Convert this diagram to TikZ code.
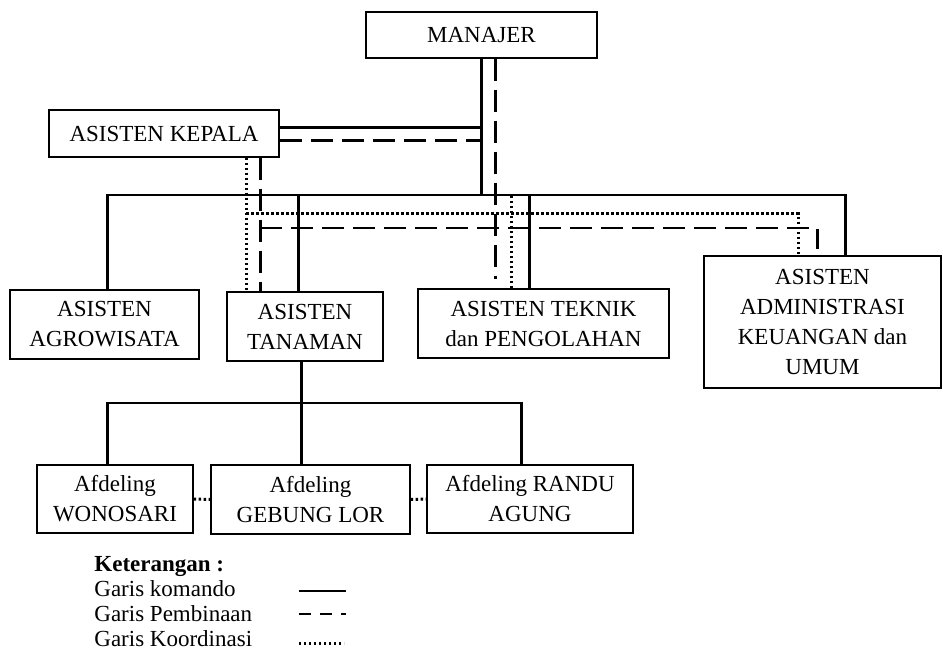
\documentclass[tikz,border=0pt]{standalone}
\usepackage{fontspec}
\setmainfont{Liberation Serif}
\usetikzlibrary{positioning, calc}

\begin{document}
\begin{tikzpicture}[
    x=0.5pt, y=-0.5pt,
    font=\fontsize{11.5}{15}\selectfont,
    box/.style={draw, line width=0.7pt, rectangle, inner sep=0pt, align=center},
    komando/.style={line width=1.3pt},
    pembinaan/.style={line width=1.3pt, dash pattern=on 11pt off 4.5pt},
    koordinasi/.style={line width=1.5pt, dash pattern=on 1.2pt off 1.3pt},
    legend/.style={anchor=base west, inner sep=0pt}
]
\useasboundingbox (0,0) rectangle (943,652);
% Top — Manajer and Asisten Kepala
\node[box, minimum width=115.5pt, minimum height=23pt] (manajer) at (481.5,35) {MANAJER};
\node[box, minimum width=115pt, minimum height=23.5pt] (kepala) at (164,133.5) {ASISTEN KEPALA};
% Middle — Asisten
\node[box, minimum width=94.5pt, minimum height=34.5pt] (agro) at (104.5,324.5) {ASISTEN\\AGROWISATA};
\node[box, minimum width=78pt, minimum height=34.5pt] (tanaman) at (305,326.5) {ASISTEN\\TANAMAN};
\node[box, minimum width=125.5pt, minimum height=34.5pt] (teknik) at (543.5,323.5) {ASISTEN TEKNIK\\dan PENGOLAHAN};
\node[box, minimum width=118.5pt, minimum height=66pt] (admin) at (822.5,322)
      {ASISTEN\\ADMINISTRASI\\KEUANGAN dan\\UMUM};
% Bottom — Afdeling
\node[box, minimum width=78pt, minimum height=34pt] (wonosari) at (115,499) {Afdeling\\WONOSARI};
\node[box, minimum width=99.5pt, minimum height=34.5pt] (gebung) at (310.5,499.5) {Afdeling\\GEBUNG LOR};
\node[box, minimum width=103pt, minimum height=34pt] (randu) at (530,499) {Afdeling RANDU\\AGUNG};

% bus lines
\coordinate (kbus) at (0,195);
\coordinate (dbus) at (0,214);
\coordinate (pbus) at (0,228);
\coordinate (abus) at (0,403);

% Garis komando
\draw[komando] (manajer.south) -- (manajer.south |- kbus);
\draw[komando] ($(kepala.north east)+(0,18)$) coordinate (k1) -- (k1 -| manajer.south);
\coordinate (c1) at ($(agro.north west)+(98,0)$);
\coordinate (c2) at ($(admin.north west)+(142,0)$);
\draw[komando] (c1) -- (c1 |- kbus) -- (c2 |- kbus) -- (c2);
\draw[komando] ($(tanaman.north west)+(72,0)$) coordinate (c3) -- (c3 |- kbus);
\draw[komando] ($(teknik.north west)+(112,0)$) coordinate (c4) -- (c4 |- kbus);
\draw[komando] ($(tanaman.south west)+(75,0)$) coordinate (c5) -- (c5 |- gebung.north);
\coordinate (c6) at ($(wonosari.north west)+(71,0)$);
\coordinate (c7) at ($(randu.north west)+(95,0)$);
\draw[komando] (c6) -- (c6 |- abus) -- (c7 |- abus) -- (c7);

% Garis pembinaan
\draw[pembinaan] ($(kepala.south east)+(0,-17)$) coordinate (p1) -- (p1 -| manajer.south);
\draw[pembinaan, shorten >=4.5pt] ($(manajer.south west)+(130,0)$) coordinate (p2) -- (p2 |- teknik.north);
\draw[pembinaan] ($(kepala.south west)+(212,0)$) coordinate (p3) -- (p3 |- tanaman.north);
\coordinate (p4) at ($(admin.north west)+(114,0)$);
\draw[pembinaan, shorten >=3pt] (p3 |- pbus) -- (p4 |- pbus) -- (p4);

% Garis koordinasi
\draw[koordinasi] ($(kepala.south west)+(198,0)$) coordinate (d1) -- (d1 |- tanaman.north);
\coordinate (d2) at ($(admin.north west)+(95,0)$);
\draw[koordinasi] (d1 |- dbus) -- (d2 |- dbus) -- (d2);
\draw[koordinasi] ($(teknik.north west)+(94,0)$) coordinate (d3) -- (d3 |- kbus);
\draw[koordinasi] (wonosari.east) -- (gebung.west);
\draw[koordinasi] (gebung.east) -- (randu.west);

% Keterangan
\node[legend, font=\fontsize{11.5}{15}\selectfont\bfseries] (ket) at (94,571) {Keterangan :};
\node[legend] (gk) at (94,596) {Garis komando};
\node[legend] (gp) at (94,621) {Garis Pembinaan};
\node[legend] (gko) at (94,646) {Garis Koordinasi};
\draw[komando] ($(gk.base west)+(205,-5)$) -- ++(47,0);
\draw[komando, dash pattern=on 6pt off 4.5pt] ($(gp.base west)+(205,-7)$) -- ++(47,0);
\draw[koordinasi] ($(gko.base west)+(205,-3)$) -- ++(45,0);
\end{tikzpicture}
\end{document}
